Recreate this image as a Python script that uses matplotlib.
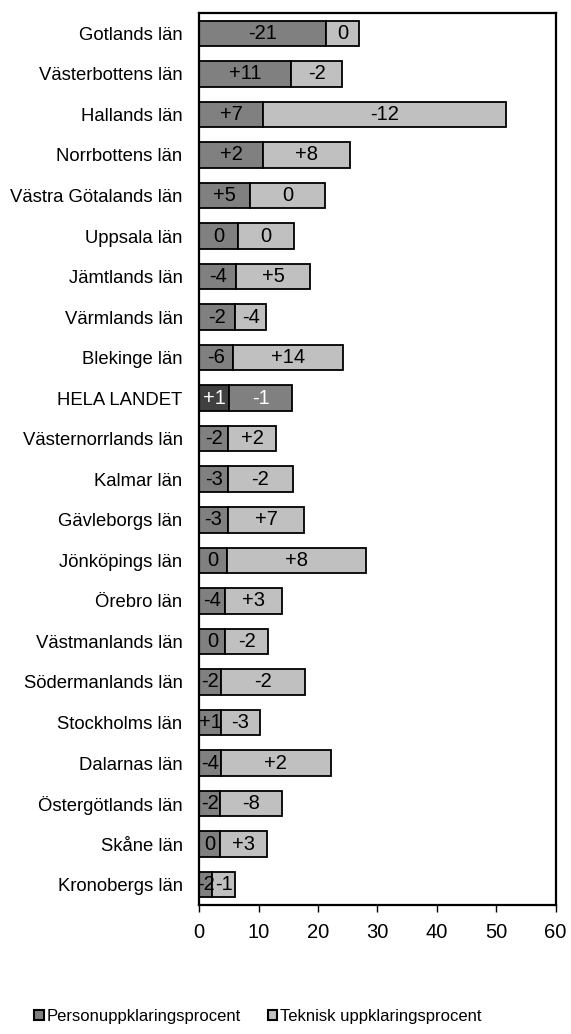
import matplotlib
matplotlib.use("Agg")
import matplotlib.pyplot as plt
from matplotlib.patches import Patch
import numpy as np

plt.rcParams['font.family'] = ['Liberation Sans', 'DejaVu Sans']

categories = ["Gotlands län", "Västerbottens län", "Hallands län", "Norrbottens län",
              "Västra Götalands län", "Uppsala län", "Jämtlands län", "Värmlands län",
              "Blekinge län", "HELA LANDET", "Västernorrlands län", "Kalmar län",
              "Gävleborgs län", "Jönköpings län", "Örebro län", "Västmanlands län",
              "Södermanlands län", "Stockholms län", "Dalarnas län", "Östergötlands län",
              "Skåne län", "Kronobergs län"]
person = [21.4, 15.4, 10.7, 10.7, 8.6, 6.6, 6.2, 6.0, 5.6, 5.05, 4.9, 4.9,
          4.8, 4.6, 4.4, 4.4, 3.65, 3.65, 3.65, 3.5, 3.5, 2.2]
teknisk = [5.5, 8.7, 40.9, 14.6, 12.5, 9.3, 12.5, 5.3, 18.6, 10.55, 8.0, 10.8,
           12.9, 23.4, 9.5, 7.2, 14.15, 6.55, 18.45, 10.4, 7.9, 3.8]
person_labels = ["-21", "+11", "+7", "+2", "+5", "0", "-4", "-2", "-6", "+1", "-2", "-3",
                 "-3", "0", "-4", "0", "-2", "+1", "-4", "-2", "0", "-2"]
teknisk_labels = ["0", "-2", "-12", "+8", "0", "0", "+5", "-4", "+14", "-1", "+2", "-2",
                  "+7", "+8", "+3", "-2", "-2", "-3", "+2", "-8", "+3", "-1"]
xticks = [0, 10, 20, 30, 40, 50, 60]
highlight = "HELA LANDET"

fig = plt.figure(figsize=(5.71, 10.34), dpi=100)
ax = fig.add_axes([0.349, 0.1248, 0.624, 0.8626])

y = np.arange(len(categories))
c1 = ['#404040' if c == highlight else '#808080' for c in categories]
c2 = ['#808080' if c == highlight else '#C0C0C0' for c in categories]

b1 = ax.barh(y, person, height=0.63, color=c1, edgecolor='black', linewidth=1.3,
             label='Personuppklaringsprocent')
b2 = ax.barh(y, teknisk, left=person, height=0.63, color=c2, edgecolor='black',
             linewidth=1.3, label='Teknisk uppklaringsprocent')

t1 = ax.bar_label(b1, labels=person_labels, label_type='center', fontsize=14.5)
t2 = ax.bar_label(b2, labels=teknisk_labels, label_type='center', fontsize=14.5)
for i, c in enumerate(categories):
    if c == highlight:
        t1[i].set_color('white')
        t2[i].set_color('white')

ax.set_yticks(y)
ax.set_yticklabels(categories, fontsize=13.3)
ax.set_ylim(len(categories) - 0.5, -0.5)
ax.set_xlim(0, 60)
ax.set_xticks(xticks)
ax.set_xticklabels([str(v) for v in xticks], fontsize=14.5)
ax.tick_params(axis='y', length=0, pad=12)
ax.tick_params(axis='x', length=5, width=1, pad=8, direction='out')
for s in ax.spines.values():
    s.set_linewidth(1.6)

handles = [Patch(facecolor='#808080', edgecolor='black', linewidth=1.5),
           Patch(facecolor='#C0C0C0', edgecolor='black', linewidth=1.5)]
fig.legend(handles, ['Personuppklaringsprocent', 'Teknisk uppklaringsprocent'],
           loc='center', bbox_to_anchor=(0.452, 0.0174), ncol=2, frameon=False,
           fontsize=12, handlelength=0.55, handleheight=0.55, handletextpad=0.2,
           columnspacing=1.6)

fig.savefig('out.png', dpi=100)
